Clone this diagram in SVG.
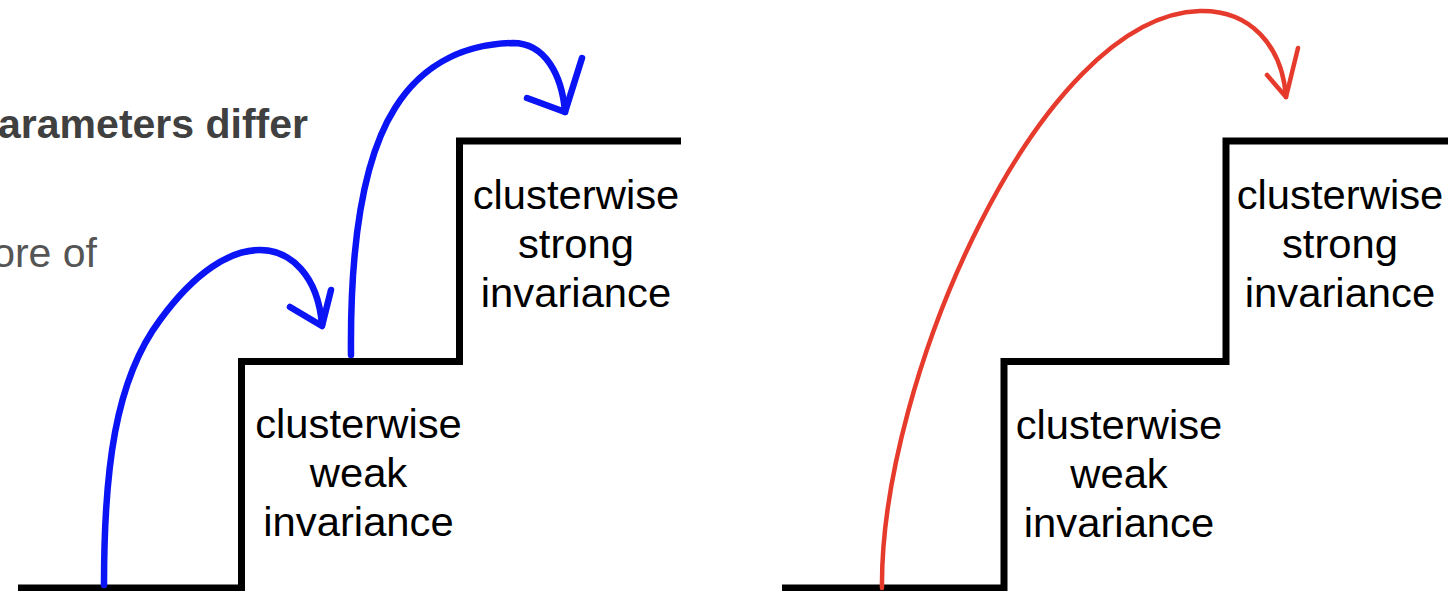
<svg xmlns="http://www.w3.org/2000/svg" width="1454" height="591" viewBox="0 0 1454 591">
  <style>
    .stair { fill: none; stroke: #000; stroke-width: 7; stroke-linejoin: miter; }
    .label { font-family: "Liberation Sans", Arial, sans-serif; font-size: 40px; fill: #000; text-anchor: middle; }
    .note { font-family: "Liberation Sans", Arial, sans-serif; font-size: 41px; text-anchor: end; }
    .blue { fill: none; stroke: #0a14f5; stroke-width: 6.5; stroke-linecap: round; stroke-linejoin: round; }
    .red { fill: none; stroke: #e63a2c; stroke-width: 4.5; stroke-linecap: round; stroke-linejoin: round; }
  </style>
  <rect width="1454" height="591" fill="#fff"/>

  <!-- partial caption text at the left edge -->
  <g id="caption">
    <text class="note" x="308" y="138" font-weight="bold" fill="#404040">arameters differ</text>
    <text class="note" x="97" y="267" fill="#555555">ore of</text>
  </g>

  <!-- left staircase: stepwise path -->
  <g id="stairs-left">
    <path class="stair" d="M18,588 H241.5 V361.5 H459.5 V141 H681"/>
  </g>
  <g id="weak-left">
    <text class="label" transform="translate(358.5,438) scale(1.045,1)"><tspan x="0" y="0">clusterwise</tspan><tspan x="0" y="49">weak</tspan><tspan x="0" y="98">invariance</tspan></text>
  </g>
  <g id="strong-left">
    <text class="label" transform="translate(576,209) scale(1.045,1)"><tspan x="0" y="0">clusterwise</tspan><tspan x="0" y="49">strong</tspan><tspan x="0" y="98">invariance</tspan></text>
  </g>

  <!-- right staircase: direct jump -->
  <g id="stairs-right">
    <path class="stair" d="M782,588 H1004 V361.5 H1226 V141 H1448"/>
  </g>
  <g id="weak-right">
    <text class="label" transform="translate(1119,439) scale(1.045,1)"><tspan x="0" y="0">clusterwise</tspan><tspan x="0" y="49">weak</tspan><tspan x="0" y="98">invariance</tspan></text>
  </g>
  <g id="strong-right">
    <text class="label" transform="translate(1340,209) scale(1.045,1)"><tspan x="0" y="0">clusterwise</tspan><tspan x="0" y="49">strong</tspan><tspan x="0" y="98">invariance</tspan></text>
  </g>

  <!-- hand-drawn jump arrows -->
  <g id="connectors">
    <path class="blue" d="M104,585 C104,470 115,380 160,320 C195,272 230,250 260,250 C290,250 318,275 322,325"/>
    <path class="blue" d="M290,307 L322,326 L331,290"/>
    <path class="blue" d="M351,355 C350,250 362,160 395,108 C425,60 470,44 513,43 C545,43 562,75 565,112"/>
    <path class="blue" d="M527,98 L565,112 L582,58"/>
    <path class="red" d="M882,588 C880,380 1040,15 1200,11 C1250,10 1282,45 1286,97"/>
    <path class="red" d="M1267,75 L1286,97 L1298,48"/>
  </g>
</svg>
